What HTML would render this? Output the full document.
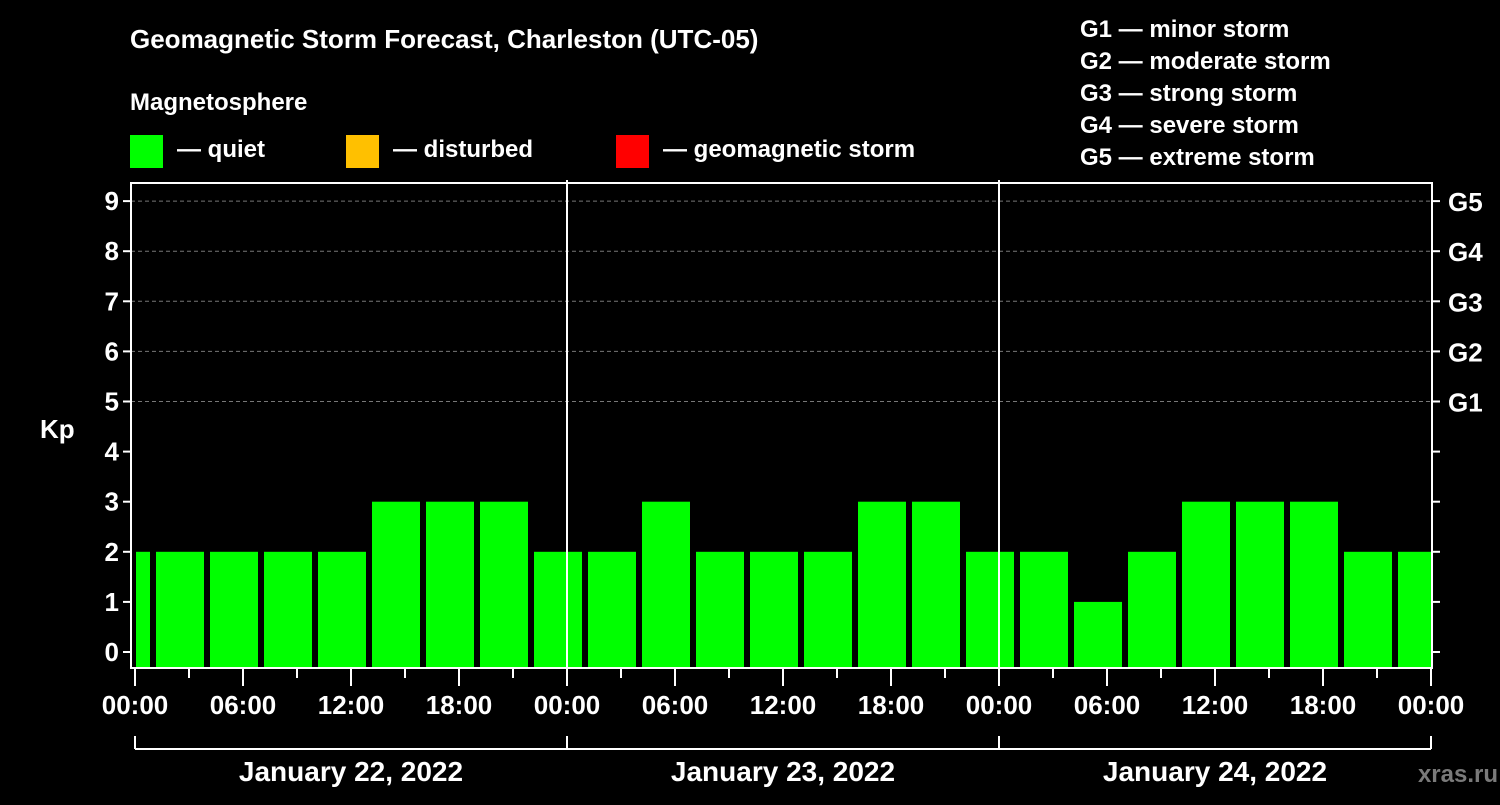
<!DOCTYPE html>
<html><head><meta charset="utf-8"><style>
body{margin:0;background:#000;width:1500px;height:800px;overflow:hidden;font-family:"Liberation Sans",sans-serif}
svg text{font-family:"Liberation Sans",sans-serif;font-weight:bold;fill:#fff}
</style></head><body>
<svg id="chart" width="1500" height="800">
<text x="130" y="48" font-size="26">Geomagnetic Storm Forecast, Charleston (UTC-05)</text>
<text x="130" y="110" font-size="24">Magnetosphere</text>
<rect x="130" y="135" width="33" height="33" fill="#00ff00"/>
<text x="177" y="157" font-size="24">— quiet</text>
<rect x="346" y="135" width="33" height="33" fill="#ffc000"/>
<text x="393" y="157" font-size="24">— disturbed</text>
<rect x="616" y="135" width="33" height="33" fill="#ff0000"/>
<text x="663" y="157" font-size="24">— geomagnetic storm</text>
<g font-size="24">
<text x="1080" y="37">G1 — minor storm</text>
<text x="1080" y="69">G2 — moderate storm</text>
<text x="1080" y="101">G3 — strong storm</text>
<text x="1080" y="133">G4 — severe storm</text>
<text x="1080" y="165">G5 — extreme storm</text>
</g>
<text x="40" y="438" font-size="26">Kp</text>
<text x="1498" y="782" font-size="24" text-anchor="end" fill="#888" style="fill:#7a7a7a">xras.ru</text>
<g id="plot"></g>
</svg>
<script>
const kpValues=[2,2,2,2,2,3,3,3,2,2,3,2,2,2,3,3,2,2,1,2,3,3,3,2,2];
const yTicks=[0,1,2,3,4,5,6,7,8,9];
const gLabels=["G1","G2","G3","G4","G5"];
const xLabels=["00:00","06:00","12:00","18:00","00:00","06:00","12:00","18:00","00:00","06:00","12:00","18:00","00:00"];
const dayLabels=["January 22, 2022","January 23, 2022","January 24, 2022"];
const L=131,R=1432,T=183,B=668,X0=135,PXH=18;
const xs=h=>X0+h*PXH;
const ys=k=>652-k*50.1;
const g=document.getElementById('plot');
const NS='http://www.w3.org/2000/svg';
function mk(t,a){const e=document.createElementNS(NS,t);for(const k in a)e.setAttribute(k,a[k]);g.appendChild(e);return e;}
kpValues.forEach((v,i)=>{
 let x1=xs(-2+3*i)+3,x2=xs(1+3*i)-3;
 x1=Math.max(x1,L+5);x2=Math.min(x2,R-1);
 const c=v>=5?'#ff0000':(v>=4?'#ffc000':'#00ff00');
 const r=mk('rect',{x:x1,y:ys(v),width:x2-x1,height:B-1-ys(v),fill:c});
 
 
});
yTicks.forEach(k=>{
 const y=ys(k);
 if(k>=5){const l=mk('line',{x1:L,x2:R,y1:y,y2:y,stroke:'#777','stroke-dasharray':'4,3'});
 }
 mk('line',{x1:L-8,x2:L,y1:y,y2:y,stroke:'#fff','stroke-width':2});
 mk('line',{x1:R,x2:R+8,y1:y,y2:y,stroke:'#fff','stroke-width':2});
 const t=mk('text',{x:L-12,y:y+9,'font-size':26,'text-anchor':'end'});t.textContent=k;
 
});
gLabels.forEach((s,i)=>{const t=mk('text',{x:1448,y:ys(5+i)+10,'font-size':26});t.textContent=s;
 });
[1,2].forEach(d=>{const l=mk('line',{x1:xs(24*d),x2:xs(24*d),y1:T-3,y2:B,stroke:'#fff','stroke-width':2});
 });
const f=mk('rect',{x:L,y:T,width:R-L,height:B-T,fill:'none',stroke:'#fff','stroke-width':2});

for(let h=0;h<=72;h+=3){mk('line',{x1:xs(h),x2:xs(h),y1:B,y2:h%6==0?B+18:B+10,stroke:'#fff','stroke-width':2});}
xLabels.forEach((s,i)=>{const t=mk('text',{x:xs(6*i),y:714,'font-size':26,'text-anchor':'middle'});t.textContent=s;
 });
mk('line',{x1:xs(0),x2:xs(72),y1:749,y2:749,stroke:'#fff','stroke-width':2});
for(let d=0;d<=3;d++)mk('line',{x1:xs(24*d),x2:xs(24*d),y1:736,y2:749,stroke:'#fff','stroke-width':2});
dayLabels.forEach((s,i)=>{const t=mk('text',{x:xs(24*i+12),y:781,'font-size':28,'text-anchor':'middle'});t.textContent=s;
 });
</script>
</body></html>
